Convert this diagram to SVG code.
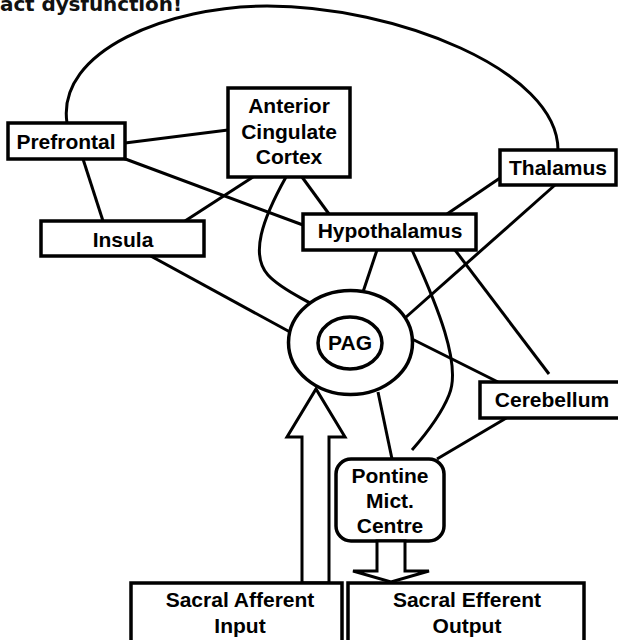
<svg xmlns="http://www.w3.org/2000/svg" width="618" height="640" viewBox="0 0 618 640">
<style>
.box{fill:#fff;stroke:#000;stroke-width:3.5}
.ln{fill:none;stroke:#000;stroke-width:3}
.t{font-family:"Liberation Sans",Arial,sans-serif;font-weight:bold;font-size:21px;fill:#000;text-anchor:middle}
.arr{fill:#fff;stroke:#000;stroke-width:3;stroke-linejoin:miter}
</style>
<rect width="618" height="640" fill="#fff"/>
<text x="0" y="11" font-family="DejaVu Sans, Verdana, sans-serif" font-weight="bold" font-size="20" fill="#111" textLength="182">act dysfunction!</text>
<g id="connectors">
<path class="ln" d="M 67,123 C 56,50 170,6 267,6 C 395,6 558,70 558,150"/>
<line class="ln" x1="125" y1="143" x2="228" y2="130"/>
<line class="ln" x1="120" y1="157" x2="303" y2="225"/>
<line class="ln" x1="83" y1="159" x2="103" y2="221"/>
<line class="ln" x1="253" y1="177" x2="185" y2="221"/>
<line class="ln" x1="302" y1="177" x2="329" y2="214"/>
<path class="ln" d="M 286,177 C 262,220 250,255 268,275 C 280,288 298,296 310,303"/>
<line class="ln" x1="147" y1="254" x2="290" y2="332"/>
<line class="ln" x1="377" y1="250" x2="363" y2="292"/>
<line class="ln" x1="500" y1="178" x2="447" y2="214"/>
<line class="ln" x1="555" y1="185" x2="405" y2="318"/>
<line class="ln" x1="455" y1="250" x2="549" y2="374"/>
<path class="ln" d="M 412,250 C 437,305 462,365 449,395 C 441,415 426,434 412,450"/>
<line class="ln" x1="378" y1="392" x2="392" y2="459"/>
<line class="ln" x1="412" y1="339" x2="498" y2="382"/>
<line class="ln" x1="508" y1="417" x2="437" y2="459"/>
</g>
<g id="prefrontal">
<rect class="box" x="8" y="123" width="117" height="36"/>
<text class="t" x="66" y="149">Prefrontal</text>
</g>
<g id="acc">
<rect class="box" x="228" y="88" width="122" height="89"/>
<text class="t" x="289" y="113">Anterior</text>
<text class="t" x="289" y="139">Cingulate</text>
<text class="t" x="289" y="164">Cortex</text>
</g>
<g id="thalamus">
<rect class="box" x="500" y="150" width="116" height="35"/>
<text class="t" x="558" y="175">Thalamus</text>
</g>
<g id="hypothalamus">
<rect class="box" x="303" y="214" width="173" height="36"/>
<text class="t" x="390" y="238">Hypothalamus</text>
</g>
<g id="insula">
<rect class="box" x="41" y="221" width="163" height="35"/>
<text class="t" x="123" y="247">Insula</text>
</g>
<g id="pag">
<ellipse class="box" cx="350.5" cy="342.5" rx="62" ry="52"/>
<ellipse class="box" cx="350" cy="343" rx="32" ry="26"/>
<text class="t" x="350" y="350">PAG</text>
</g>
<g id="cerebellum">
<rect class="box" x="480" y="382" width="150" height="36"/>
<text class="t" x="552" y="407">Cerebellum</text>
</g>
<g id="pontine">
<rect class="box" x="336" y="459" width="108" height="82" rx="15" ry="15"/>
<text class="t" x="390" y="483">Pontine</text>
<text class="t" x="390" y="508">Mict.</text>
<text class="t" x="390" y="533">Centre</text>
</g>
<g id="afferent-arrow">
<polygon class="arr" points="302,583 302,437 287,437 316,389 345,437 329,437 329,583"/>
</g>
<g id="efferent-arrow">
<polygon class="arr" points="377,541 377,571 353,571 391,582 429,571 405,571 405,541"/>
</g>
<g id="sacral-afferent">
<rect class="box" x="131" y="583" width="211" height="70"/>
<text class="t" x="240" y="607">Sacral Afferent</text>
<text class="t" x="240" y="633">Input</text>
</g>
<g id="sacral-efferent">
<rect class="box" x="348" y="583" width="236" height="70"/>
<text class="t" x="467" y="607">Sacral Efferent</text>
<text class="t" x="467" y="633">Output</text>
</g>
</svg>
